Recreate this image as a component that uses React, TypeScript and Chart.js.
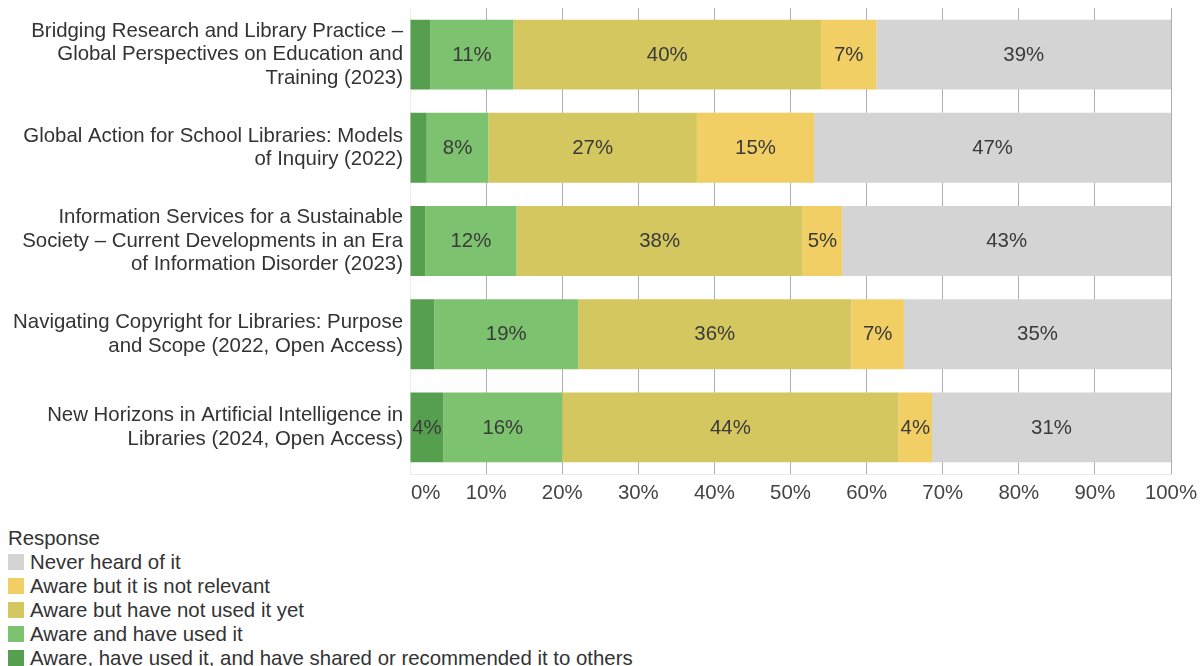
import React, { useEffect, useRef } from "react";
import { Chart, registerables } from "chart.js";

Chart.register(...registerables);

const FONT = '"Liberation Sans", Arial, Helvetica, sans-serif';
const FS = 20.4;

const categories: string[][] = [
  ["Bridging Research and Library Practice –", "Global Perspectives on Education and", "Training (2023)"],
  ["Global Action for School Libraries: Models", "of Inquiry (2022)"],
  ["Information Services for a Sustainable", "Society – Current Developments in an Era", "of Information Disorder (2023)"],
  ["Navigating Copyright for Libraries: Purpose", "and Scope (2022, Open Access)"],
  ["New Horizons in Artificial Intelligence in", "Libraries (2024, Open Access)"],
];

const seriesNames = [
  "Aware, have used it, and have shared or recommended it to others",
  "Aware and have used it",
  "Aware but have not used it yet",
  "Aware but it is not relevant",
  "Never heard of it",
];

const seriesColors = ["#569f4e", "#7dc36f", "#d4c75f", "#f2cf64", "#d4d4d4"];

const sharedValues = [2.7, 2.2, 2.0, 3.2, 4.4];
const usedValues = [10.9, 8.1, 12.0, 18.9, 15.6];
const notUsedValues = [40.4, 27.4, 37.6, 35.9, 44.2];
const notRelevantValues = [7.3, 15.4, 5.2, 6.9, 4.4];
const neverValues = [38.7, 46.9, 43.2, 35.1, 31.4];

const seriesValues = [sharedValues, usedValues, notUsedValues, notRelevantValues, neverValues];

const tickValues = [0, 10, 20, 30, 40, 50, 60, 70, 80, 90, 100];

const legendTitle = "Response";

const barLabelPlugin = {
  id: "barLabels",
  afterDatasetsDraw(chart: any) {
    const ctx = chart.ctx;
    ctx.save();
    ctx.font = `${FS}px ${FONT}`;
    ctx.fillStyle = "#3a3a3a";
    ctx.textAlign = "center";
    ctx.textBaseline = "middle";
    chart.data.datasets.forEach((ds: any, i: number) => {
      const meta = chart.getDatasetMeta(i);
      meta.data.forEach((el: any, j: number) => {
        const r = Math.round(ds.data[j]);
        if (r < 4) return;
        const p = el.getProps(["x", "y", "base"], true);
        ctx.fillText(r + "%", (p.x + p.base) / 2, p.y + 0.5);
      });
    });
    ctx.restore();
  },
};

const flushFirstTickPlugin = {
  id: "flushFirstTick",
  beforeDraw(chart: any) {
    const scale = chart.scales.x;
    const items = scale.getLabelItems(chart.chartArea);
    if (items && items.length) {
      items[0].options.textAlign = "left";
      items[0].options.translation = [scale.left + 1, items[0].options.translation[1]];
    }
  },
};

export default function App() {
  const canvasRef = useRef<HTMLCanvasElement | null>(null);

  useEffect(() => {
    if (!canvasRef.current) return;
    const chart = new Chart(canvasRef.current, {
      type: "bar",
      data: {
        labels: categories,
        datasets: seriesNames.map((name, i) => ({
          label: name,
          data: seriesValues[i],
          backgroundColor: seriesColors[i],
          borderWidth: 0,
          barPercentage: 0.75,
          categoryPercentage: 1,
        })),
      },
      options: {
        indexAxis: "y",
        animation: false,
        responsive: true,
        maintainAspectRatio: false,
        layout: { padding: { left: 0, right: 33, top: 8, bottom: 0 } },
        plugins: {
          legend: { display: false },
          tooltip: { enabled: false },
          title: { display: false },
        },
        scales: {
          x: {
            type: "linear",
            stacked: true,
            min: 0,
            max: 100,
            afterBuildTicks(scale: any) {
              scale.ticks = tickValues.map((v) => ({ value: v }));
            },
            afterFit(scale: any) {
              scale.height = 46;
              scale.paddingLeft = 0;
              scale.paddingRight = 0;
            },
            ticks: {
              callback: (v: any) => v + "%",
              color: "#444",
              font: { family: FONT, size: FS },
              padding: 7,
              maxRotation: 0,
              autoSkip: false,
            },
            grid: {
              drawTicks: false,
              color: (c: any) => (c.tick && c.tick.value === 0 ? "rgba(0,0,0,0)" : "#acb0b4"),
              lineWidth: 1,
            },
            border: { display: true, color: "#e8e8e8" },
          },
          y: {
            stacked: true,
            afterFit(scale: any) {
              scale.width = 410;
              scale.paddingTop = 0;
              scale.paddingBottom = 0;
            },
            ticks: {
              color: "#333",
              font: { family: FONT, size: FS, lineHeight: 23.4 / FS },
              padding: 7,
              autoSkip: false,
            },
            grid: { display: false, drawTicks: false },
            border: { display: true, color: "#ececec" },
          },
        },
      },
      plugins: [barLabelPlugin, flushFirstTickPlugin],
    } as any);
    return () => chart.destroy();
  }, []);

  const legendOrder = [4, 3, 2, 1, 0];

  return (
    <div style={{ position: "absolute", left: 0, top: 0, width: 1204, height: 666, background: "#fff", fontFamily: FONT }}>
      <div style={{ position: "absolute", left: 0, top: 0, width: 1204, height: 520 }}>
        <canvas ref={canvasRef} />
      </div>
      <div style={{ position: "absolute", left: 8, top: 526, fontSize: FS, lineHeight: "24px", color: "#333" }}>
        <div>{legendTitle}</div>
        {legendOrder.map((i) => (
          <div key={i} style={{ display: "flex", alignItems: "center", height: 24, whiteSpace: "nowrap" }}>
            <span style={{ display: "inline-block", width: 16, height: 16, background: seriesColors[i], marginRight: 6 }} />
            <span>{seriesNames[i]}</span>
          </div>
        ))}
      </div>
    </div>
  );
}
